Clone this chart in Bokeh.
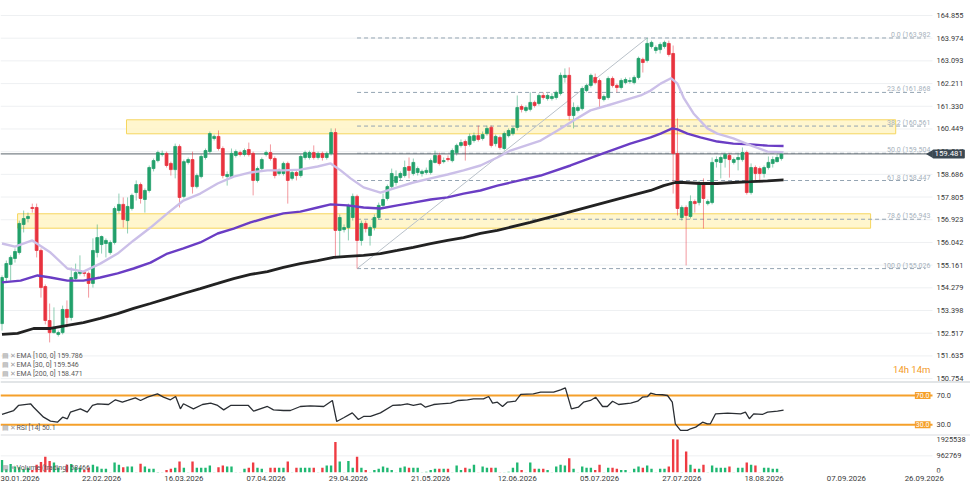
import math
from bokeh.plotting import figure
from bokeh.models import Range1d, FixedTicker, Span, Label, ColumnDataSource
from bokeh.layouts import column
from bokeh.embed import file_html
from bokeh.resources import INLINE
from bokeh.core.properties import value

# ---------------- data ----------------
open_ = [152.89, 154.68, 155.19, 155.42, 155.65, 156.74, 156.97, 157.40, 157.40, 155.73,
         154.33, 153.01, 152.54, 152.47, 152.54, 153.44, 153.13, 154.64, 154.84, 154.87,
         154.84, 154.45, 155.65, 155.96, 156.00, 155.65, 156.04, 157.28, 157.52, 156.89,
         157.36, 157.98, 158.29, 157.71, 158.06, 158.91, 159.22, 159.46, 159.50, 159.11,
         158.87, 159.77, 157.83, 159.15, 159.26, 158.21, 158.60, 159.34, 159.57, 160.08,
         160.16, 159.69, 158.60, 158.60, 159.42, 159.53, 159.46, 159.65, 159.50, 158.45,
         158.91, 159.46, 159.53, 159.30, 158.72, 158.72, 159.11, 158.53, 158.76, 158.64,
         159.34, 159.34, 159.53, 159.34, 159.50, 159.34, 159.50, 160.31, 156.51, 156.54,
         156.62, 157.01, 157.83, 156.12, 156.78, 156.31, 156.62, 157.01, 157.48, 157.75,
         158.21, 158.37, 158.56, 158.64, 158.99, 158.72, 158.76, 158.72, 158.76, 158.76,
         159.15, 159.42, 159.18, 159.30, 159.22, 159.53, 159.81, 159.96, 159.85, 160.00,
         160.19, 160.08, 160.27, 160.51, 159.88, 160.12, 159.69, 160.19, 160.27, 160.51,
         161.32, 161.17, 161.21, 161.48, 161.44, 161.75, 161.63, 161.63, 161.67, 161.83,
         162.45, 162.53, 160.97, 161.17, 161.24, 161.94, 162.14, 162.45, 162.33, 161.59,
         161.67, 162.41, 162.14, 162.06, 162.25, 162.29, 162.25, 162.45, 163.15, 163.11,
         163.65, 163.50, 163.53, 163.65, 163.77, 163.38, 159.50, 157.01, 157.40, 157.05,
         157.63, 157.59, 158.37, 157.55, 157.59, 159.18, 159.15, 159.30, 159.42, 159.15,
         159.26, 159.26, 159.53, 157.98, 158.95, 158.91, 158.72, 158.95, 159.11, 159.18,
         159.30]
close = [154.68, 155.22, 155.46, 155.69, 156.78, 156.97, 157.05, 157.36, 155.73, 154.29,
         153.01, 152.54, 152.74, 152.54, 153.44, 153.13, 154.68, 154.87, 154.95, 154.84,
         154.45, 155.73, 156.23, 156.27, 156.12, 156.04, 157.36, 157.52, 156.93, 157.44,
         157.87, 158.29, 157.75, 158.06, 158.95, 159.22, 159.53, 159.50, 159.03, 158.87,
         159.77, 157.79, 159.18, 159.26, 158.21, 158.64, 159.38, 159.61, 160.27, 160.16,
         159.69, 158.64, 158.68, 159.50, 159.57, 159.46, 159.61, 159.46, 158.45, 158.91,
         159.26, 159.53, 159.30, 158.64, 158.84, 159.11, 158.45, 158.76, 158.64, 159.38,
         159.53, 159.53, 159.34, 159.50, 159.34, 159.50, 160.31, 156.51, 157.01, 156.62,
         157.48, 157.83, 156.12, 156.78, 156.58, 156.62, 157.01, 157.48, 157.71, 158.21,
         158.72, 158.60, 158.72, 158.95, 158.84, 159.15, 158.91, 158.80, 158.84, 159.22,
         159.42, 159.11, 159.22, 159.26, 159.61, 159.81, 159.92, 159.81, 160.16, 160.19,
         160.04, 160.23, 160.47, 159.81, 160.16, 159.73, 160.27, 160.39, 160.47, 161.28,
         161.21, 161.28, 161.48, 161.36, 161.75, 161.67, 161.75, 161.71, 161.87, 162.53,
         162.53, 160.97, 161.28, 161.28, 162.02, 162.14, 162.53, 162.25, 161.63, 161.71,
         162.41, 162.14, 162.06, 162.33, 162.37, 162.33, 162.45, 163.19, 163.03, 163.77,
         163.81, 163.61, 163.73, 163.81, 163.34, 159.50, 157.36, 157.40, 157.09, 157.63,
         157.55, 158.37, 157.75, 157.63, 159.15, 159.26, 159.34, 159.46, 159.26, 159.26,
         159.34, 159.53, 157.98, 158.95, 158.72, 158.72, 158.95, 159.15, 159.26, 159.34,
         159.48]
high = [154.76, 155.34, 155.54, 155.81, 156.89, 157.28, 157.20, 157.55, 157.55, 155.81,
        154.41, 153.67, 153.52, 152.62, 153.59, 153.79, 155.07, 155.22, 155.54, 154.95,
        154.91, 156.20, 156.74, 156.31, 156.20, 156.12, 157.44, 157.94, 157.79, 157.79,
        157.94, 158.45, 158.37, 158.14, 159.03, 159.30, 159.61, 159.61, 159.57, 159.18,
        159.88, 159.85, 159.26, 159.34, 159.57, 158.72, 159.46, 159.69, 160.35, 160.23,
        160.39, 159.77, 158.80, 159.69, 159.65, 159.61, 159.69, 159.92, 159.57, 158.99,
        159.34, 159.61, 159.85, 159.38, 158.91, 159.18, 159.18, 158.84, 158.84, 159.46,
        159.61, 159.61, 159.81, 159.57, 159.57, 159.57, 160.47, 160.47, 157.13, 156.74,
        157.55, 157.94, 157.90, 156.89, 156.89, 156.70, 157.13, 157.59, 157.94, 158.29,
        158.91, 158.84, 158.80, 159.22, 159.34, 159.30, 158.99, 158.87, 158.95, 159.30,
        159.61, 159.53, 159.34, 159.42, 159.69, 159.88, 160.04, 160.04, 160.27, 160.31,
        160.58, 160.35, 160.58, 160.58, 160.23, 160.19, 160.35, 160.47, 160.54, 161.75,
        161.40, 161.36, 161.87, 161.55, 161.83, 161.87, 161.83, 161.83, 161.94, 162.64,
        162.80, 162.84, 161.48, 161.36, 162.10, 162.21, 162.60, 162.60, 162.41, 161.79,
        162.49, 162.49, 162.21, 162.41, 162.45, 162.45, 162.53, 163.26, 163.22, 163.98,
        163.88, 163.69, 163.81, 163.88, 163.88, 163.69, 160.86, 157.48, 157.48, 157.87,
        157.71, 158.45, 158.53, 157.71, 159.34, 159.38, 159.42, 159.53, 159.50, 159.34,
        159.50, 159.73, 159.61, 159.11, 159.03, 158.99, 159.03, 159.38, 159.38, 159.46,
        159.53]
low = [152.62, 154.49, 154.56, 155.26, 155.57, 156.43, 156.82, 157.20, 155.46, 153.90,
       152.86, 152.16, 152.51, 152.39, 152.47, 152.74, 153.01, 154.56, 154.76, 154.72,
       153.90, 154.29, 155.46, 155.61, 155.46, 155.57, 155.96, 157.17, 156.62, 156.39,
       157.28, 157.67, 157.55, 157.20, 157.98, 158.80, 159.15, 159.38, 158.95, 158.64,
       158.53, 157.40, 157.75, 159.07, 157.94, 158.14, 158.53, 159.26, 159.50, 160.00,
       159.61, 158.53, 158.25, 158.53, 159.34, 159.38, 159.38, 159.38, 157.87, 158.37,
       158.84, 159.38, 159.22, 158.53, 158.64, 158.64, 157.55, 158.45, 158.45, 158.56,
       159.26, 159.26, 159.26, 159.26, 159.22, 159.26, 159.42, 155.42, 155.46, 156.43,
       156.12, 156.89, 155.03, 155.92, 156.43, 155.92, 156.51, 156.93, 157.40, 157.67,
       158.14, 158.25, 158.45, 158.56, 158.53, 158.64, 158.64, 158.60, 158.68, 158.68,
       159.11, 159.03, 159.11, 159.18, 159.15, 159.42, 159.73, 159.22, 159.77, 159.92,
       159.96, 160.00, 160.19, 159.73, 159.77, 159.65, 159.61, 160.12, 160.19, 160.39,
       161.09, 161.09, 161.13, 161.28, 161.36, 161.59, 161.55, 161.55, 161.59, 161.75,
       162.25, 160.78, 160.47, 161.09, 161.17, 161.87, 162.06, 162.18, 161.24, 161.52,
       161.59, 162.06, 161.87, 161.98, 162.18, 162.21, 162.18, 162.37, 162.64, 163.03,
       163.57, 163.38, 163.38, 163.57, 163.26, 157.94, 157.09, 156.89, 155.15, 156.97,
       157.20, 157.48, 156.58, 157.48, 157.52, 158.95, 158.53, 158.95, 158.56, 159.07,
       158.84, 159.18, 157.90, 157.90, 158.45, 158.37, 158.56, 158.87, 158.95, 159.15,
       159.22]
volume_k = [720, 200, 490, 340, 300, 200, 270, 150, 450, 600,
            910, 660, 580, 270, 50, 450, 490, 300, 270, 150,
            270, 450, 340, 210, 210, 20, 580, 450, 300, 340,
            340, 20, 500, 340, 210, 210, 30, 20, 150, 210,
            270, 640, 270, 20, 640, 270, 270, 270, 400, 20,
            300, 400, 340, 340, 20, 20, 210, 270, 580, 270,
            210, 20, 270, 270, 270, 270, 640, 20, 270, 270,
            270, 270, 270, 20, 270, 400, 400, 1760, 640, 20,
            660, 270, 910, 270, 150, 20, 150, 210, 340, 270,
            150, 20, 270, 340, 270, 270, 270, 20, 50, 150,
            210, 210, 210, 210, 20, 400, 150, 270, 210, 450,
            20, 340, 270, 270, 270, 10, 20, 50, 270, 580,
            150, 20, 580, 210, 210, 210, 150, 20, 340, 450,
            400, 830, 210, 20, 340, 270, 270, 150, 450, 20,
            270, 270, 210, 150, 150, 20, 210, 340, 270, 400,
            210, 20, 210, 210, 340, 1925.538, 1910, 20, 1210, 450,
            210, 210, 450, 20, 400, 270, 270, 270, 340, 20,
            270, 270, 580, 450, 400, 20, 270, 270, 210, 210,
            20]

ema30_idx = [0, 3, 7, 11.2, 15.1, 18.8, 22.7, 26.7, 30.4, 34.3, 38.2, 41.9, 45.8, 49.8, 53.5,
             57.4, 61.3, 65, 68.9, 72.9, 75.9, 78.2, 80.5, 83.5, 87.4, 91.3, 95, 99, 102.9,
             106.6, 110.5, 114.4, 117.4, 124.4, 128.3, 132, 135.9, 139.8, 143.5, 147.5, 149.8,
             152.1, 154.5, 156, 157.4, 159.7, 162.9, 165.2, 168.9, 172.9, 176.8, 180.5]
ema30_val = [156.00, 155.88, 156.12, 155.65, 155.03, 154.91, 155.22, 155.61, 156.12, 156.62,
             157.17, 157.67, 157.94, 158.33, 158.60, 158.76, 158.84, 158.84, 158.87, 158.99,
             159.11, 158.84, 158.53, 158.18, 157.98, 158.18, 158.37, 158.53, 158.68, 158.84,
             159.03, 159.34, 159.61, 160.00, 160.39, 160.78, 161.17, 161.36, 161.55, 161.75,
             161.94, 162.21, 162.42, 162.21, 161.67, 161.05, 160.47, 160.27, 160.08, 159.81,
             159.57, 159.55]
ema100_idx = [0, 4.3, 8.2, 11.2, 15.1, 18.8, 22.7, 26.7, 30.4, 34.3, 38.2, 41.9, 45.8, 49.8,
              53.5, 57.4, 61.3, 65, 68.9, 72.9, 75.9, 79.8, 83.5, 87.4, 91.3, 95, 99, 102.9,
              106.6, 110.5, 114.4, 124.4, 131.3, 138.2, 145.1, 149.8, 152.1, 154.8, 156,
              158.3, 161.3, 165.2, 168.9, 172.9, 176.8, 180.5]
ema100_val = [154.49, 154.56, 154.76, 154.68, 154.56, 154.56, 154.68, 154.84, 155.03, 155.26,
              155.61, 155.81, 156.04, 156.39, 156.58, 156.82, 157.01, 157.17, 157.24, 157.40,
              157.52, 157.48, 157.40, 157.36, 157.48, 157.59, 157.71, 157.79, 157.94, 158.06,
              158.25, 158.64, 159.03, 159.46, 159.88, 160.12, 160.27, 160.47, 160.43, 160.27,
              160.12, 159.96, 159.88, 159.85, 159.80, 159.79]
ema200_idx = [0, 3.6, 7.3, 11.2, 15.1, 18.8, 22.7, 26.7, 30.4, 34.3, 38.2, 41.9, 45.8, 49.8,
              53.5, 57.4, 61.3, 65, 68.9, 72.9, 76.6, 79.8, 83.5, 87.4, 91.3, 95, 99, 102.9,
              106.6, 110.5, 114.4, 122, 129, 135.9, 142.8, 149.8, 152.8, 155.5, 157.4, 161.3,
              165.2, 168.9, 172.9, 176.8, 180.5]
ema200_val = [152.47, 152.51, 152.70, 152.70, 152.82, 152.93, 153.09, 153.28, 153.48, 153.67,
              153.87, 154.06, 154.25, 154.45, 154.64, 154.80, 154.91, 155.07, 155.22, 155.34,
              155.46, 155.50, 155.54, 155.61, 155.73, 155.85, 156.00, 156.12, 156.23, 156.39,
              156.51, 156.82, 157.13, 157.44, 157.75, 158.06, 158.25, 158.37, 158.37, 158.33,
              158.33, 158.37, 158.40, 158.43, 158.47]

rsi_idx = [0, 2.7, 3.8, 6.6, 7.3, 9.6, 11.2, 12.8, 14.0, 15.1, 15.8, 18.1, 19.7, 20.9, 22.1,
           24.6, 26.2, 27.8, 29.0, 30.8, 32.0, 33.6, 35.9, 37.3, 38.9, 40.1, 41.2, 41.9, 44.2,
           46.3, 48.2, 49.8, 51.2, 52.8, 55.1, 56.9, 58.1, 61.3, 62.7, 65.0, 66.6, 68.9, 71.2,
           74.3, 76.3, 77.3, 78.9, 80.9, 82.3, 83.5, 85.1, 87.4, 90.2, 92.0, 93.6, 95.0, 96.7,
           97.8, 99.7, 101.3, 103.6, 105.4, 107.5, 108.9, 111.2, 112.4, 113.3, 114.4, 115.6,
           116.7, 118.6, 119.8, 122.7, 124.4, 127.4, 129.0, 130.1, 131.5, 133.1, 134.3, 135.9,
           137.1, 138.7, 139.8, 141.0, 142.4, 145.2, 146.8, 147.9, 149.1, 149.8, 150.9, 152.5,
           153.7, 154.8, 155.5, 156.7, 158.3, 159.0, 160.2, 161.8, 162.9, 163.6, 164.8, 167.6,
           170.6, 171.7, 172.6, 173.6, 175.6, 176.8, 179.1, 180.5]
rsi_val = [44.1, 49.5, 56.4, 58.7, 54.0, 40.4, 35.0, 33.6, 40.4, 38.2, 47.2, 51.8, 47.2, 56.4, 58.7,
           57.7, 64.1, 60.9, 63.2, 66.8, 63.2, 67.7, 72.3, 67.7, 64.1, 68.6, 51.8, 58.7, 51.8,
           57.7, 59.5, 56.4, 50.4, 56.4, 56.4, 56.4, 48.6, 55.0, 50.4, 49.5, 49.5, 55.0, 55.9,
           55.0, 63.2, 34.5, 39.6, 46.3, 37.3, 41.4, 41.4, 46.3, 56.4, 57.0, 58.7, 56.4, 58.7,
           54.0, 57.7, 58.7, 59.5, 63.2, 64.1, 65.5, 65.5, 68.6, 59.5, 60.9, 55.0,
           60.9, 62.2, 71.4, 72.3, 74.5, 74.5, 77.8, 80.5, 51.8, 54.0, 60.9, 63.2,
           67.7, 55.0, 55.0, 62.2, 57.7, 59.5, 62.2, 67.7, 68.6, 73.1, 71.4, 71.0,
           70.0, 60.9, 31.4, 22.3, 22.3, 24.6, 26.8, 33.6, 31.4, 31.4, 45.0, 45.9,
           45.0, 47.2, 38.2, 45.0, 44.1, 47.2, 48.6, 50.1]

price_ticks = [150.754, 151.635, 152.517, 153.398, 154.279, 155.161, 156.042, 156.923, 157.805,
               158.686, 159.567, 160.449, 161.330, 162.211, 163.093, 163.974, 164.855]
date_ticks = [4, 23, 42, 61, 80, 99, 119, 138, 157, 176, 195, 213]
date_labels = ["30.01.2026", "22.02.2026", "16.03.2026", "07.04.2026", "29.04.2026",
               "21.05.2026", "12.06.2026", "05.07.2026", "27.07.2026", "18.08.2026",
               "07.09.2026", "26.09.2026"]
volume_ticks = [0, 962769, 1925538]
rsi_levels = [70, 30]

fib_ratios = ["0.0", "23.6", "38.2", "50.0", "61.8", "78.6", "100.0"]
fib_prices = [163.982, 161.868, 160.561, 159.504, 158.447, 156.943, 155.026]
fib_start_idx = 82
fib_end_idx = 149

zone_left = [28.75, 3.6]
zone_right = [206.4, 200.6]
zone_bottom = [160.261, 156.595]
zone_top = [160.805, 157.155]

last_price = 159.481
legend_rows = ["EMA [100, 0] 159.786", "EMA [30, 0] 159.546", "EMA [200, 0] 158.471"]
rsi_legend = "RSI [14] 50.1"
volume_legend = "Volume (trading) 58466"
countdown = "14h 14m"

# ---------------- styling ----------------
FONT = "Roboto"
W = 970
PXB = 4.33                 # pixels per bar
X0 = -1.5 / PXB
X1 = X0 + W / PXB          # full-width frame, bar index units
BOUND = 932 / PXB + X0     # right edge of the chart area (scale area starts here)
LABX = 936 / PXB + X0      # x of scale labels
GREEN = "#22a06b"
RED = "#e8333f"
VGREEN = "#1fb872"
VRED = "#ef3b42"
ORANGE = "#f5a02a"
AX = "#3a3a3a"
GRID = "#eef0f2"
SEP = "#d9dcdf"
SCALE_FS = "7.4px"

x_range = Range1d(X0, X1)


def base_fig(h, yr, xaxis=None, bottom=0):
    p = figure(width=W, height=h, x_range=x_range, y_range=yr, output_backend="svg",
               toolbar_location=None, x_axis_location=xaxis, y_axis_location=None,
               min_border_left=0, min_border_top=0, min_border_bottom=bottom,
               min_border_right=0)
    p.toolbar.logo = None
    p.outline_line_color = None
    p.xgrid.visible = False
    p.ygrid.visible = False
    return p


def lab(p, x, y, text, color="#707070", size="7px", align="left", baseline="middle",
        xu="screen", yu="screen", **kw):
    p.add_layout(Label(x=x, y=y, x_units=xu, y_units=yu, text=text, text_color=color,
                       text_font=FONT, text_font_size=size, text_align=align,
                       text_baseline=baseline, **kw))


def scale_labels(p, ticks, texts, baseline="middle"):
    p.text(x=[LABX] * len(ticks), y=ticks, text=texts, text_font=value(FONT),
           text_font_size=SCALE_FS, text_color=AX, text_align="left", text_baseline=baseline)


def grid(p, ticks):
    p.segment(x0=[X0] * len(ticks), y0=ticks, x1=[BOUND] * len(ticks), y1=ticks,
              line_color=GRID, line_width=1)


# ---------------- main price panel ----------------
main = base_fig(383, Range1d(150.564, 165.4375))
grid(main, price_ticks)
main.add_layout(Span(location=150.622, dimension="width", line_color=SEP, line_width=1.6))

main.quad(left=zone_left, right=zone_right, bottom=zone_bottom, top=zone_top,
          fill_color="#fff4c6", fill_alpha=0.85, line_color="#f6d65e", line_width=1)

n_f = len(fib_prices)
main.segment(x0=[fib_start_idx] * n_f, y0=fib_prices, x1=[BOUND - 1.6] * n_f, y1=fib_prices,
             line_color="#94a4b2", line_width=1, line_dash="4 3")
main.segment(x0=[fib_start_idx], y0=[fib_prices[-1]], x1=[fib_end_idx], y1=[fib_prices[0]],
             line_color="#b9c1c9", line_width=1)

main.segment(x0=[X0], y0=[last_price], x1=[BOUND], y1=[last_price], line_color="#7b8389",
             line_width=1.2)

idx = list(range(len(close)))
up = [c >= o for o, c in zip(open_, close)]
src = ColumnDataSource(dict(
    x=idx,
    top=[max(o, c) for o, c in zip(open_, close)],
    bottom=[min(o, c) for o, c in zip(open_, close)],
    high=high, low=low,
    color=[GREEN if u else RED for u in up],
))
main.segment(x0="x", y0="low", x1="x", y1="high", line_color="color", line_alpha=0.5,
             line_width=1, source=src)
main.vbar(x="x", width=0.66, top="top", bottom="bottom", fill_color="color",
          line_color="color", line_width=0.8, source=src)

main.line(ema200_idx, ema200_val, line_color="#222222", line_width=2.8)
main.line(ema100_idx, ema100_val, line_color="#6a3dc4", line_width=2.4)
main.line(ema30_idx, ema30_val, line_color="#cbbfe8", line_width=2.4)

for r, fp in zip(fib_ratios, fib_prices):
    lab(main, BOUND - 0.5, fp, f"{r} ({fp:.3f}", color="#a7b2bc", size="7px", align="right",
        baseline="bottom", xu="data", yu="data", y_offset=-1)

for i, t in enumerate(legend_rows):
    yy = 27.3 - 8.65 * i
    lab(main, 1, yy, "▤ ✕", color="#a0a0a0", size="6.5px")
    lab(main, 16, yy, t, color="#5a5a5a", size="7px")

scale_labels(main, price_ticks, [f"{t:.3f}" for t in price_ticks])

lab(main, BOUND - 0.5, 14, countdown, color="#f39a1e", size="9.5px", align="right",
    xu="data")
main.scatter(x=[BOUND - 0.45], y=[last_price], marker="triangle", angle=math.pi / 2,
             size=8, fill_color="#3b4852", line_color=None)
lab(main, BOUND, last_price, f"{last_price:.3f}", color="white", size="7.8px",
    xu="data", yu="data", background_fill_color="#3b4852", padding=2, border_radius=1)

# ---------------- RSI panel ----------------
rsi = base_fig(51, Range1d(16.76, 86.38))
rsi.segment(x0=[X0] * 2, y0=rsi_levels, x1=[BOUND] * 2, y1=rsi_levels, line_color=ORANGE,
            line_width=2)
rsi.line(rsi_idx, rsi_val, line_color="#2a2e33", line_width=1.3)
for lv in rsi_levels:
    lab(rsi, BOUND - 0.46, lv, f"{lv:.1f}", color="white", size="7px", align="right",
        xu="data", yu="data", background_fill_color=ORANGE, padding=1)
scale_labels(rsi, rsi_levels, [f"{lv:.1f}" for lv in rsi_levels])
lab(rsi, 1, 6.7, "▤ ✕", color="#a0a0a0", size="6.5px")
lab(rsi, 16, 6.7, rsi_legend, color="#5a5a5a", size="7px")

# ---------------- volume panel ----------------
vol = base_fig(56, Range1d(0, 2.197e6), xaxis="below", bottom=18)
vol.add_layout(Span(location=2.18e6, dimension="width", line_color=SEP, line_width=1.6))
grid(vol, volume_ticks[1:2])
vsrc = ColumnDataSource(dict(x=idx, v=[k * 1000 for k in volume_k],
                             color=[VGREEN if u else VRED for u in up]))
vol.vbar(x="x", width=0.55, top="v", bottom=0, fill_color="color", line_color=None,
         source=vsrc)
scale_labels(vol, volume_ticks[1:], [str(t) for t in volume_ticks[1:]])
scale_labels(vol, volume_ticks[:1], [str(volume_ticks[0])], baseline="bottom")
xa = vol.xaxis[0]
xa.ticker = FixedTicker(ticks=date_ticks)
xa.major_label_overrides = {t: s for t, s in zip(date_ticks, date_labels)}
xa.axis_line_color = None
xa.major_tick_line_color = None
xa.minor_tick_line_color = None
xa.major_tick_out = 0
xa.major_tick_in = 0
xa.minor_tick_out = 0
xa.major_label_text_font = FONT
xa.major_label_text_font_size = "7.8px"
xa.major_label_text_color = AX
xa.major_label_standoff = 3
lab(vol, 1, 4.7, "▤ ✕", color="#a0a0a0", size="6.5px")
lab(vol, 16, 4.7, volume_legend, color="#5a5a5a", size="7px")

layout = column(main, rsi, vol, spacing=0)
open("out.html", "w").write(file_html(layout, INLINE))
